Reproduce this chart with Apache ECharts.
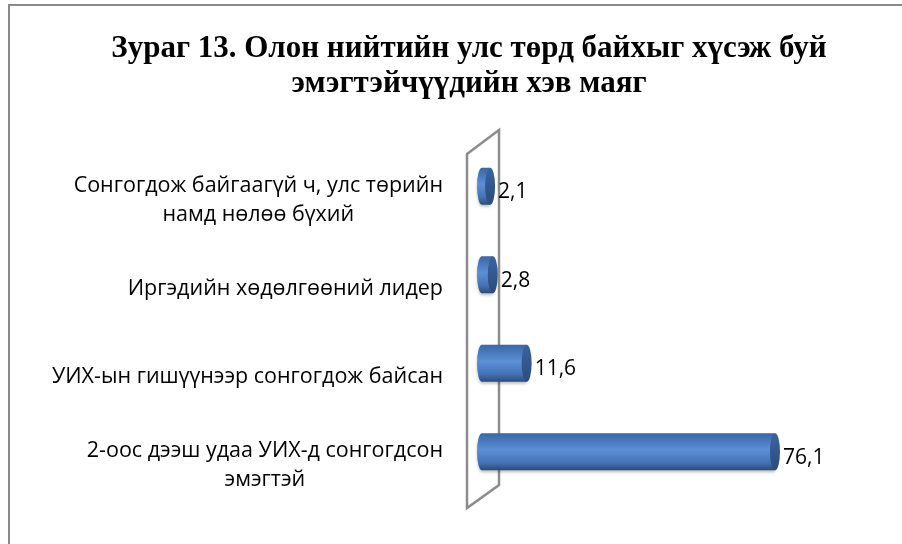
<!DOCTYPE html>
<html>
<head>
<meta charset="utf-8">
<script src="https://cdn.jsdelivr.net/npm/echarts@6/dist/echarts.min.js"></script>
<style>
  html, body { margin: 0; padding: 0; background: #fff; }
  #main { width: 902px; height: 544px; }
</style>
</head>
<body>
<div id="main"></div>
<script>
// categories from bottom to top, as Excel orders them
const categories = [
  "2-оос дээш удаа УИХ-д сонгогдсон\nэмэгтэй",
  "УИХ-ын гишүүнээр сонгогдож байсан",
  "Иргэдийн хөдөлгөөний лидер",
  "Сонгогдож байгаагүй ч, улс төрийн\nнамд нөлөө бүхий"
];
const values = [76.1, 11.6, 2.8, 2.1];
const titleText = "Зураг 13. Олон нийтийн улс төрд байхыг хүсэж буй\nэмэгтэйчүүдийн хэв маяг";

var chart = echarts.init(document.getElementById("main"));

// 3d-ish cylinder bar, rounded at the start, elliptic face at the end
function renderCylinder(params, api) {
  var idx = api.value(1);
  var v = api.value(0);
  var start = api.coord([0, idx]);
  var end = api.coord([v, idx]);
  var h = api.size([0, 1])[1] * 0.42;
  var rx = 5, ry = h / 2;
  var xs = start[0], xe = end[0], yc = start[1];
  var top = yc - ry, bot = yc + ry;
  var body = "M" + xs + " " + top + " L" + xe + " " + top + " L" + xe + " " + bot +
    " L" + xs + " " + bot + " A" + rx + " " + ry + " 0 0 1 " + xs + " " + top + " Z";
  var face = "M" + xe + " " + top + " A" + rx + " " + ry + " 0 1 1 " + xe + " " + bot +
    " A" + rx + " " + ry + " 0 1 1 " + xe + " " + top + " Z";
  return {
    type: "group",
    children: [
      {
        type: "path",
        shape: { pathData: body },
        style: {
          fill: {
            type: "linear", x: 0, y: 0, x2: 0, y2: 1,
            colorStops: [
              { offset: 0, color: "#3a67a6" },
              { offset: 0.45, color: "#5b8fd6" },
              { offset: 0.8, color: "#4472b4" },
              { offset: 1, color: "#2b4a78" }
            ]
          },
          shadowBlur: 3,
          shadowOffsetY: 2,
          shadowColor: "rgba(0,0,0,0.25)"
        }
      },
      {
        type: "path",
        shape: { pathData: face },
        style: {
          fill: {
            type: "linear", x: 0, y: 0, x2: 0, y2: 1,
            colorStops: [
              { offset: 0, color: "#3a64a0" },
              { offset: 1, color: "#2b4c7c" }
            ]
          }
        }
      },
      {
        type: "text",
        x: xe + rx + 3,
        y: yc + 6,
        style: {
          text: String(v).replace(".", ","),
          fill: "#000",
          fontSize: 21,
          fontFamily: "Open Sans",
          verticalAlign: "middle",
          align: "left"
        }
      }
    ]
  };
}

var option = {
  backgroundColor: "#fff",
  animation: false,
  title: {
    text: titleText,
    left: 469,
    top: 31,
    textAlign: "center",
    padding: 0,
    textStyle: {
      fontFamily: "Liberation Serif",
      fontWeight: "bold",
      fontSize: 31,
      lineHeight: 35,
      color: "#000"
    }
  },
  graphic: [
    {
      type: "rect",
      z: -10,
      shape: { x: 9, y: 5, width: 1000, height: 1000 },
      style: { fill: null, stroke: "#8a8a8a", lineWidth: 2 }
    },
    {
      // back wall of the 3d plot
      type: "polygon",
      z: 0,
      shape: { points: [[467, 154], [499, 130], [499, 485], [467, 508]] },
      style: { fill: null, stroke: "#8c8c8c", lineWidth: 2.5 }
    }
  ],
  grid: { left: 482, right: 35, top: 142, height: 354 },
  xAxis: {
    type: "value",
    min: 0,
    max: 100,
    show: false
  },
  yAxis: {
    type: "category",
    data: categories,
    axisLine: { show: false },
    axisTick: { show: false },
    splitLine: { show: false },
    axisLabel: {
      margin: 39,
      padding: [28, 0, 0, 0],
      formatter: function (v) {
        return v.split("\n").map(function (s) { return "{c|" + s + "}"; }).join("\n");
      },
      rich: {
        c: {
          align: "center",
          fontSize: 21.5,
          lineHeight: 29,
          fontFamily: "Open Sans",
          color: "#000"
        }
      }
    }
  },
  series: [
    {
      type: "custom",
      z: 5,
      renderItem: renderCylinder,
      encode: { x: 0, y: 1 },
      data: values.map(function (v, i) { return [v, i]; })
    }
  ]
};

chart.setOption(option);
</script>
</body>
</html>
